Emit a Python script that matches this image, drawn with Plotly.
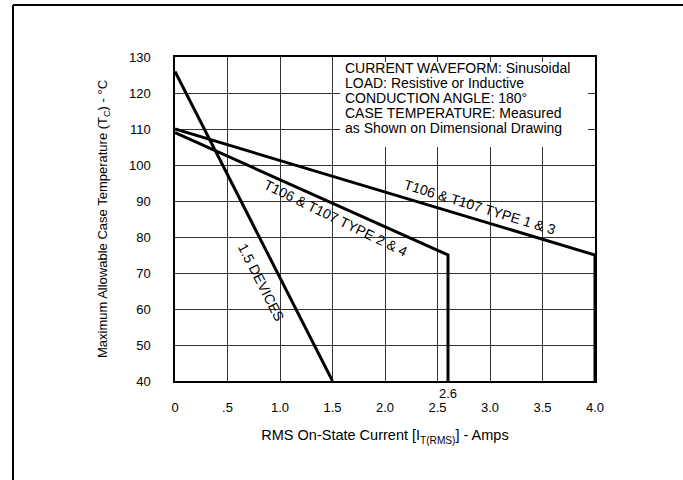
import plotly.graph_objects as go

# Data
devices_x = [0.0, 1.5]
devices_y = [126, 40]
type24_x = [0.0, 2.6, 2.6]
type24_y = [109, 75, 40]
type13_x = [0.0, 4.0, 4.0]
type13_y = [110, 75, 40]

x_tickvals = [0, 0.5, 1.0, 1.5, 2.0, 2.5, 3.0, 3.5, 4.0]
x_ticktext = ["0", ".5", "1.0", "1.5", "2.0", "2.5", "3.0", "3.5", "4.0"]
y_tickvals = [40, 50, 60, 70, 80, 90, 100, 110, 120, 130]

info_lines = [
    "CURRENT WAVEFORM: Sinusoidal",
    "LOAD: Resistive or Inductive",
    "CONDUCTION ANGLE: 180°",
    "CASE TEMPERATURE: Measured",
    "as Shown on Dimensional Drawing",
]

FONT = "Liberation Sans, Arial, Helvetica, sans-serif"
W, H = 683, 480
L, R, T, B = 175, 88, 57, 99
PW, PH = W - L - R, H - T - B

def px_x(p):
    return (p - L) / PW

def px_y(p):
    return 1 - (p - T) / PH

fig = go.Figure()
line_style = dict(color="black", width=3)
fig.add_trace(go.Scatter(x=devices_x, y=devices_y, mode="lines", line=line_style, showlegend=False))
fig.add_trace(go.Scatter(x=type24_x, y=type24_y, mode="lines", line=line_style, showlegend=False))
fig.add_trace(go.Scatter(x=type13_x, y=type13_y, mode="lines", line=line_style, showlegend=False))

shapes = [
    # white box behind the info text
    dict(type="rect", xref="paper", yref="paper",
         x0=px_x(340), x1=px_x(588), y0=px_y(147), y1=px_y(62),
         fillcolor="white", line=dict(width=0), layer="above"),
    # figure border (top and left)
    dict(type="line", xref="paper", yref="paper",
         x0=px_x(13), x1=px_x(683), y0=px_y(5), y1=px_y(5),
         line=dict(color="black", width=2)),
    dict(type="line", xref="paper", yref="paper",
         x0=px_x(13), x1=px_x(13), y0=px_y(5), y1=px_y(480),
         line=dict(color="black", width=2)),
]

annotations = []
info_centers = [68, 83, 98, 113, 128]
for txt, cy in zip(info_lines, info_centers):
    annotations.append(dict(xref="paper", yref="paper", x=px_x(343), y=px_y(cy),
                            xanchor="left", yanchor="middle", align="left",
                            text=txt, showarrow=False,
                            font=dict(family=FONT, size=14, color="black")))
annotations += [
    dict(x=2.9, y=88.3, text="T106 & T107 TYPE 1 & 3", textangle=17, showarrow=False,
         font=dict(family=FONT, size=14, color="black")),
    dict(x=1.53, y=85.3, text="T106 & T107 TYPE 2 & 4", textangle=26, showarrow=False,
         font=dict(family=FONT, size=14, color="black")),
    dict(x=0.82, y=67.5, text="1.5 DEVICES", textangle=63, showarrow=False,
         font=dict(family=FONT, size=14, color="black")),
    dict(x=2.6, xref="x", yref="paper", y=px_y(393), yanchor="middle",
         text="2.6", showarrow=False,
         font=dict(family=FONT, size=13, color="black")),
]

fig.update_layout(
    width=W, height=H,
    margin=dict(l=L, r=R, t=T, b=B, autoexpand=False),
    paper_bgcolor="white", plot_bgcolor="white",
    font=dict(family=FONT, size=13, color="black"),
    shapes=shapes, annotations=annotations,
    xaxis=dict(range=[0, 4], tickvals=x_tickvals, ticktext=x_ticktext,
               showgrid=True, gridcolor="#333", gridwidth=1,
               showline=True, linecolor="black", linewidth=1.5, mirror=True,
               ticks="", ticklabelstandoff=14, zeroline=False,
               tickfont=dict(size=13),
               title=dict(text="RMS On-State Current [I<sub>T(RMS)</sub>] - Amps",
                          standoff=16, font=dict(size=14.5))),
    yaxis=dict(range=[40, 130], tickvals=y_tickvals,
               showgrid=True, gridcolor="#333", gridwidth=1,
               showline=True, linecolor="black", linewidth=1.5, mirror=True,
               ticks="", ticklabelstandoff=20, zeroline=False,
               tickfont=dict(size=13),
               title=dict(text="Maximum Allowable Case Temperature (T<sub>C</sub>) - °C",
                          standoff=18, font=dict(size=13))),
)

fig.write_html("out.html")
